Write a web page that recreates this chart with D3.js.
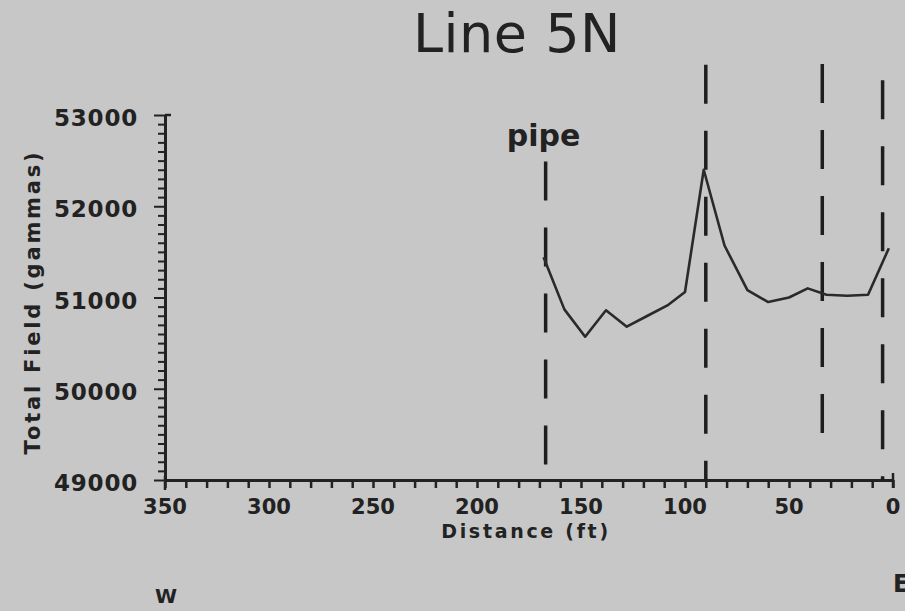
<!DOCTYPE html>
<html>
<head>
<meta charset="utf-8">
<script src="https://cdn.jsdelivr.net/npm/d3@7"></script>
<style>
  html, body { margin: 0; padding: 0; background: #c7c7c7; }
  svg { display: block; }
  text { fill: #222; font-family: "DejaVu Sans", sans-serif; }
</style>
</head>
<body>
<div id="chart"></div>
<script>
// survey readings along Line 5N, distance in ft (W -> E reads 350 -> 0)
const distance = [168, 158, 148, 138, 128, 118, 108, 100, 91, 81, 70, 60, 50, 41, 32, 22, 12, 2]
const totalField = [51440, 50870, 50570, 50860, 50680, 50800, 50920, 51060, 52400, 51570, 51080, 50950, 51000, 51100, 51030, 51020, 51030, 51540]

// dashed marker lines (ft), where each one starts and stops (gammas)
const markers = [167, 90, 34, 5]
const markerTop = [52490, 53550, 53560, 53380]
const markerBottom = [49000, 49000, 49500, 49000]

const xTicks = [350, 300, 250, 200, 150, 100, 50, 0]
const yTicks = [49000, 50000, 51000, 52000, 53000]

const width = 905, height = 611
const margin = {top: 115, right: 12, bottom: 131, left: 165}

const svg = d3.select("#chart").append("svg")
    .attr("width", width).attr("height", height)

const x = d3.scaleLinear().domain([350, 0]).range([margin.left, width - margin.right])
const y = d3.scaleLinear().domain([49000, 53000]).range([height - margin.bottom, margin.top])

/* axes */
const xAxis = g => g
    .attr("transform", `translate(0,${y(49000)})`)
    .call(d3.axisBottom(x).tickValues(d3.range(0, 351, 10)).tickSize(8).tickSizeOuter(0).tickFormat(""))
    .call(g => g.selectAll("line").attr("stroke-width", 2.5))
    .call(g => g.select(".domain").attr("stroke-width", 3))

const yAxis = g => g
    .attr("transform", `translate(${x(350)},0)`)
    .call(d3.axisLeft(y).tickValues(d3.range(49000, 53001, 100)).tickSize(7).tickSizeOuter(0).tickFormat(""))
    .call(g => g.selectAll("line").attr("stroke-width", 2))
    .call(g => g.select(".domain").attr("stroke-width", 3))

const gx = svg.append("g").call(xAxis)
const gy = svg.append("g").call(yAxis)
svg.selectAll(".domain, .tick line").attr("stroke", "#222")

// longer ticks at labelled values, small end hooks
gy.selectAll(".tick").filter(d => d % 1000 === 0).select("line").attr("x2", -11)
svg.append("line").attr("x1", x(350)).attr("x2", x(350) + 6)
    .attr("y1", y(53000)).attr("y2", y(53000)).attr("stroke", "#222").attr("stroke-width", 2.5)
svg.append("line").attr("x1", x(350)).attr("x2", x(350))
    .attr("y1", y(49000) - 4).attr("y2", y(49000) + 10).attr("stroke", "#222").attr("stroke-width", 2.5)
svg.append("line").attr("x1", x(0)).attr("x2", x(0))
    .attr("y1", y(49000) - 7).attr("y2", y(49000) + 8).attr("stroke", "#222").attr("stroke-width", 2.5)

svg.append("g").selectAll("text").data(xTicks).join("text")
    .attr("x", d => x(d)).attr("y", y(49000) + 34)
    .attr("text-anchor", "middle").attr("font-size", 21).attr("font-weight", "bold")
    .text(d => d)

svg.append("g").selectAll("text").data(yTicks).join("text")
    .attr("x", x(350) - 27).attr("y", d => y(d) + 11)
    .attr("text-anchor", "end").attr("font-size", 23).attr("font-weight", "bold")
    .attr("letter-spacing", 0.8)
    .text(d => d)

/* dashed markers */
svg.append("g").selectAll("line").data(markers).join("line")
    .attr("x1", d => x(d)).attr("x2", d => x(d))
    .attr("y1", (d, i) => y(markerTop[i])).attr("y2", (d, i) => y(markerBottom[i]))
    .attr("stroke", "#1e1e1e").attr("stroke-width", 3.5)
    .attr("stroke-dasharray", "39 27")

svg.append("text").attr("x", x(markers[0]) - 2).attr("y", y(53000) + 31)
    .attr("text-anchor", "middle").attr("font-size", 30).attr("font-weight", "bold")
    .text("pipe")

/* profile */
const line = d3.line().x(d => x(d[0])).y(d => y(d[1]))
svg.append("path")
    .datum(distance.map((d, i) => [d, totalField[i]]))
    .attr("d", line)
    .attr("fill", "none").attr("stroke", "#2a2a2a").attr("stroke-width", 2.6)
    .attr("stroke-linejoin", "round")

/* labels */
svg.append("text").attr("x", 517).attr("y", 52)
    .attr("text-anchor", "middle").attr("font-size", 54)
    .attr("letter-spacing", 0.5)
    .text("Line  5N")

svg.append("text").attr("x", 526).attr("y", 538)
    .attr("text-anchor", "middle").attr("font-size", 19).attr("font-weight", "bold")
    .attr("letter-spacing", 2.7)
    .text("Distance  (ft)")

svg.append("text").attr("transform", `translate(40,302) rotate(-90)`)
    .attr("text-anchor", "middle").attr("font-size", 21).attr("font-weight", "bold")
    .attr("letter-spacing", 2.8)
    .text("Total  Field  (gammas)")

svg.append("text").attr("x", 166).attr("y", 603)
    .attr("text-anchor", "middle").attr("font-size", 20).attr("font-weight", "bold")
    .text("W")
svg.append("text").attr("x", 893).attr("y", 592)
    .attr("text-anchor", "start").attr("font-size", 24).attr("font-weight", "bold")
    .text("E")
</script>
</body>
</html>
